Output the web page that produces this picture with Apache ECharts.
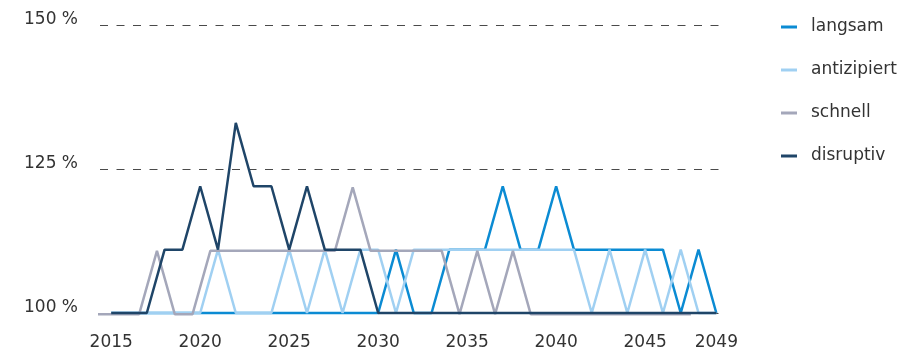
<!DOCTYPE html>
<html><head><meta charset="utf-8">
<script src="https://cdn.jsdelivr.net/npm/echarts@6/dist/echarts.min.js"></script>
<style>html,body{margin:0;padding:0;background:#fff}#c{width:903px;height:354px}</style>
</head><body><div id="c"></div><script>
const years = [2015,2016,2017,2018,2019,2020,2021,2022,2023,2024,2025,2026,2027,2028,2029,2030,2031,2032,2033,2034,2035,2036,2037,2038,2039,2040,2041,2042,2043,2044,2045,2046,2047,2048,2049];
const schnellYears = [2014,2015,2016,2017,2018,2019,2020,2021,2022,2023,2024,2025,2026,2027,2028,2029,2030,2031,2032,2033,2034,2035,2036,2037,2038,2039,2040,2041,2042,2043,2044,2045,2046,2047,2048];
const langsam = [100,100,100,100,100,100,100,100,100,100,100,100,100,100,100,100,111,100,100,111,111,111,122,111,111,122,111,111,111,111,111,111,100,111,100];
const antizipiert = [100,100,100,100,100,100,111,100,100,100,111,100,111,100,111,111,100,111,111,111,111,111,111,111,111,111,111,100,111,100,111,100,111,100,100];
const schnell = [99.8,99.8,99.8,99.8,110.8,99.8,99.8,110.8,110.8,110.8,110.8,110.8,110.8,110.8,110.8,121.8,110.8,110.8,110.8,110.8,110.8,99.8,110.8,99.8,110.8,99.8,99.8,99.8,99.8,99.8,99.8,99.8,99.8,99.8,99.8];
const disruptiv = [100,100,100,111,111,122,111,133,122,122,111,122,111,111,111,100,100,100,100,100,100,100,100,100,100,100,100,100,100,100,100,100,100,100,100];
const xTickLabels = [2015,2020,2025,2030,2035,2040,2045,2049];
const seriesNames = ['langsam','antizipiert','schnell','disruptiv'];

const SCHNELL_SHIFT = -0.43;
const colors = ['#0b8bd3','#a0d0f2','#a4a7ba','#1f4568'];
const FONT = 'DejaVu Sans';
function pairs(xs, vs, shift){ return xs.map((x,i)=>[x+shift, vs[i]]); }

const chart = echarts.init(document.getElementById('c'), null, {renderer:'canvas'});
const seriesData = [pairs(years,langsam,0), pairs(years,antizipiert,0), pairs(schnellYears,schnell,SCHNELL_SHIFT), pairs(years,disruptiv,0)];
chart.setOption({
  animation:false,
  backgroundColor:'#fff',
  grid:{left:100,right:176,top:25,bottom:41},
  legend:{
    orient:'vertical', left:776, top:12, padding:5, itemWidth:16, itemHeight:3, itemGap:23, icon:'rect',
    textStyle:{fontFamily:FONT,fontSize:17,color:'#333',lineHeight:20,padding:[0,0,0,9]},
    data:seriesNames
  },
  xAxis:{type:'value',min:2014.37,max:2049.6,
    axisLine:{show:false},axisTick:{show:false},splitLine:{show:false},
    axisLabel:{customValues:xTickLabels,formatter:v=>String(v),margin:21,fontFamily:FONT,fontSize:17,color:'#333'}},
  yAxis:{type:'value',min:100,max:150,interval:25,
    axisLine:{show:false},axisTick:{show:false},
    splitLine:{lineStyle:{type:[8,8.5],color:'#4a4a4a',width:1}},
    axisLabel:{formatter:v=>v+' %',margin:22,fontFamily:FONT,fontSize:17,color:'#333',verticalAlign:'bottom',lineHeight:10}},
  series:seriesNames.map((n,i)=>({name:n,type:'line',data:seriesData[i],symbol:'none',clip:false,
    color:colors[i],lineStyle:{width:2.5,color:colors[i]}}))
});
</script></body></html>
